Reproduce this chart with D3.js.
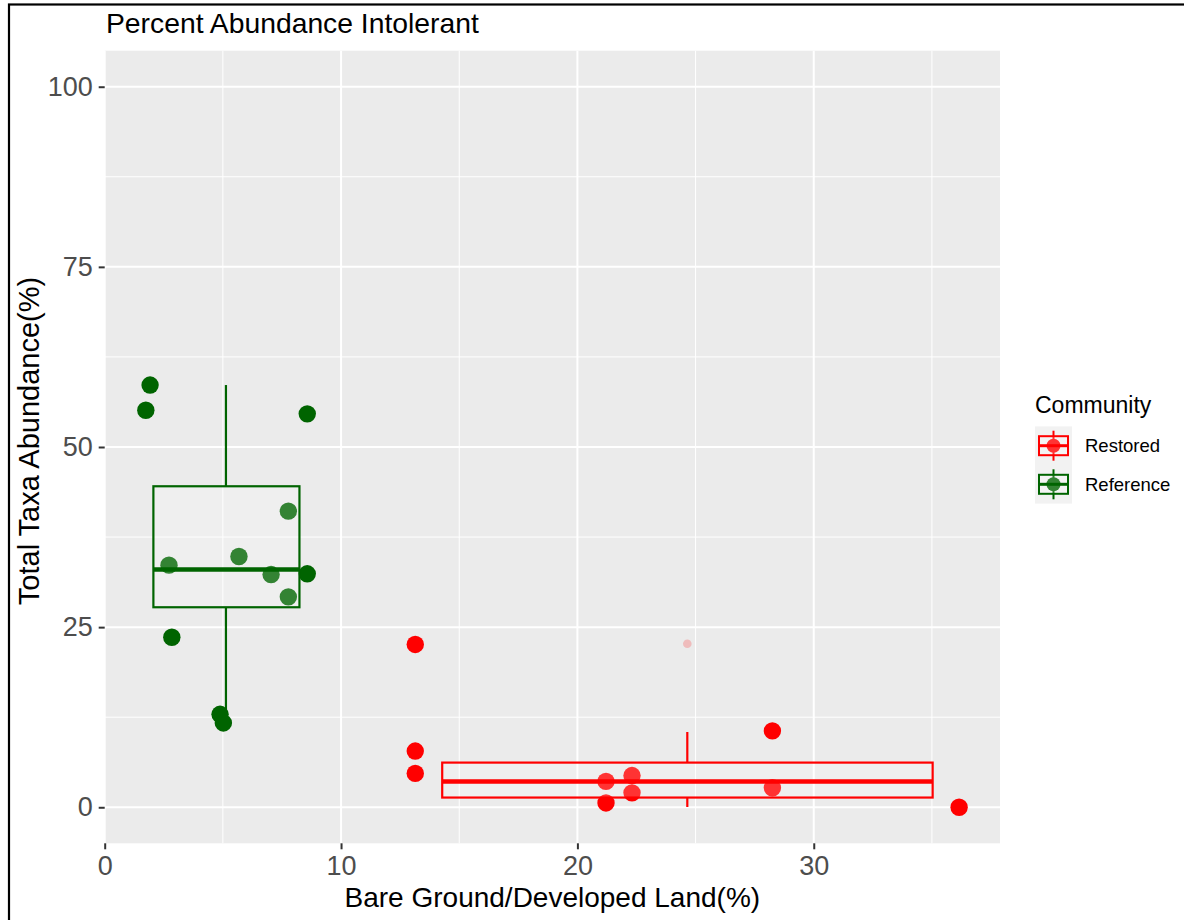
<!DOCTYPE html>
<html>
<head>
<meta charset="utf-8">
<script src="https://cdn.jsdelivr.net/npm/d3@7"></script>
<style>
  body { margin: 0; background: #fff; }
  text { font-family: "Liberation Sans", Arial, sans-serif; }
</style>
</head>
<body>
<div id="graph-container"></div>
<script>
// values
var communities = ["Restored", "Reference"];

var restoredX = [13.14, 13.14, 13.14, 21.21, 22.31, 22.31, 21.21, 28.25, 28.25, 36.15];
var restoredY = [22.6, 7.8, 4.7, 3.6, 4.4, 2.0, 0.6, 10.6, 2.7, 0.0];

var referenceX = [1.92, 1.74, 8.57, 7.77, 5.68, 2.72, 7.04, 8.57, 7.77, 2.84, 4.88, 5.02];
var referenceY = [58.6, 55.1, 54.6, 41.1, 34.8, 33.6, 32.3, 32.4, 29.2, 23.6, 12.9, 11.7];

// boxplot summaries, one entry per community (Restored, Reference)
var boxXmin = [14.28, 2.06];
var boxXmax = [35.03, 8.24];
var boxCenter = [24.65, 5.13];
var whiskerLow = [0.04, 12.8];
var boxLower = [1.35, 27.76];
var boxMiddle = [3.57, 33.0];
var boxUpper = [6.2, 44.55];
var whiskerHigh = [10.45, 58.6];
var outlierX = [24.65];
var outlierY = [22.7];

var xTicks = [0, 10, 20, 30];
var xMinor = [5, 15, 25, 35];
var yTicks = [0, 25, 50, 75, 100];
var yMinor = [12.5, 37.5, 62.5, 87.5];

var colour = d3.scaleOrdinal().domain(communities).range(["#ff0000", "#006400"]);

var svg = d3.select("#graph-container")
  .append("svg")
    .attr("width", 1184)
    .attr("height", 920);

// outer frame of the screenshot
svg.append("rect")
    .attr("x", 9).attr("y", 4.5)
    .attr("width", 1200).attr("height", 960)
    .attr("fill", "none")
    .attr("stroke", "#000")
    .attr("stroke-width", 2.2);

var panel = {left: 104.7, right: 1000, top: 50.7, bottom: 843.3};

var x = d3.scaleLinear().domain([0, 37.88]).range([panel.left, panel.right]);
var y = d3.scaleLinear().domain([-5, 105]).range([panel.bottom, panel.top]);

// panel background and grid
svg.append("rect")
    .attr("x", panel.left).attr("y", panel.top)
    .attr("width", panel.right - panel.left)
    .attr("height", panel.bottom - panel.top)
    .attr("fill", "#ebebeb");

svg.selectAll(".xminor").data(xMinor).enter().append("line")
    .attr("x1", function(d) { return x(d); }).attr("x2", function(d) { return x(d); })
    .attr("y1", panel.top).attr("y2", panel.bottom)
    .attr("stroke", "#fff").attr("stroke-width", 1);
svg.selectAll(".yminor").data(yMinor).enter().append("line")
    .attr("y1", function(d) { return y(d); }).attr("y2", function(d) { return y(d); })
    .attr("x1", panel.left).attr("x2", panel.right)
    .attr("stroke", "#fff").attr("stroke-width", 1);
svg.selectAll(".xmajor").data(xTicks).enter().append("line")
    .attr("x1", function(d) { return x(d); }).attr("x2", function(d) { return x(d); })
    .attr("y1", panel.top).attr("y2", panel.bottom)
    .attr("stroke", "#fff").attr("stroke-width", 2);
svg.selectAll(".ymajor").data(yTicks).enter().append("line")
    .attr("y1", function(d) { return y(d); }).attr("y2", function(d) { return y(d); })
    .attr("x1", panel.left).attr("x2", panel.right)
    .attr("stroke", "#fff").attr("stroke-width", 2);

// axes
var xAxis = svg.append("g")
    .attr("transform", `translate(0,${panel.bottom})`)
    .call(d3.axisBottom(x).tickValues(xTicks).tickSize(6).tickPadding(7));
var yAxis = svg.append("g")
    .attr("transform", `translate(${panel.left},0)`)
    .call(d3.axisLeft(y).tickValues(yTicks).tickSize(6).tickPadding(6));
[xAxis, yAxis].forEach(function(ax) {
  ax.select(".domain").remove();
  ax.selectAll(".tick line").attr("stroke", "#333").attr("stroke-width", 2);
  ax.selectAll(".tick text")
    .attr("fill", "#4d4d4d")
    .style("font-size", "27px")
    .style("font-family", "'Liberation Sans', Arial, sans-serif");
});

// points
var points = [];
restoredX.forEach(function(v, i) { points.push({c: "Restored", x: v, y: restoredY[i]}); });
referenceX.forEach(function(v, i) { points.push({c: "Reference", x: v, y: referenceY[i]}); });

svg.selectAll(".pt").data(points).enter().append("circle")
    .attr("cx", function(d) { return x(d.x); })
    .attr("cy", function(d) { return y(d.y); })
    .attr("r", 8.7)
    .attr("fill", function(d) { return colour(d.c); });

// boxplots drawn over the points with a faint white fill
communities.forEach(function(c, i) {
  var g = svg.append("g");
  var col = colour(c);
  g.append("line")
      .attr("x1", x(boxCenter[i])).attr("x2", x(boxCenter[i]))
      .attr("y1", y(boxUpper[i])).attr("y2", y(whiskerHigh[i]))
      .attr("stroke", col).attr("stroke-width", 2.2);
  g.append("line")
      .attr("x1", x(boxCenter[i])).attr("x2", x(boxCenter[i]))
      .attr("y1", y(boxLower[i])).attr("y2", y(whiskerLow[i]))
      .attr("stroke", col).attr("stroke-width", 2.2);
  g.append("rect")
      .attr("x", x(boxXmin[i])).attr("y", y(boxUpper[i]))
      .attr("width", x(boxXmax[i]) - x(boxXmin[i]))
      .attr("height", y(boxLower[i]) - y(boxUpper[i]))
      .attr("fill", "#fff").attr("fill-opacity", 0.2)
      .attr("stroke", col).attr("stroke-width", 2.2);
  g.append("line")
      .attr("x1", x(boxXmin[i])).attr("x2", x(boxXmax[i]))
      .attr("y1", y(boxMiddle[i])).attr("y2", y(boxMiddle[i]))
      .attr("stroke", col).attr("stroke-width", 4.4);
});

svg.selectAll(".outlier").data(outlierX).enter().append("circle")
    .attr("cx", function(d) { return x(d); })
    .attr("cy", function(d, i) { return y(outlierY[i]); })
    .attr("r", 4.3)
    .attr("fill", colour("Restored"))
    .attr("fill-opacity", 0.2);

// titles
svg.append("text")
    .attr("x", 106).attr("y", 33)
    .style("font-size", "28.3px")
    .text("Percent Abundance Intolerant");

svg.append("text")
    .attr("x", (panel.left + panel.right) / 2).attr("y", 907)
    .style("text-anchor", "middle")
    .style("font-size", "28px")
    .text("Bare Ground/Developed Land(%)");

svg.append("text")
    .attr("transform", "translate(39, 441) rotate(-90)")
    .style("text-anchor", "middle")
    .style("font-size", "29px")
    .text("Total Taxa Abundance(%)");

// legend
var legend = svg.append("g").attr("transform", "translate(1035, 0)");
legend.append("text")
    .attr("x", 0).attr("y", 413)
    .style("font-size", "23px")
    .text("Community");

communities.forEach(function(c, i) {
  var cy = 445.7 + i * 38.6;
  var col = colour(c);
  var k = legend.append("g");
  k.append("rect")
      .attr("x", 0).attr("y", cy - 19.3)
      .attr("width", 37).attr("height", 38.6)
      .attr("fill", "#f2f2f2");
  k.append("line")
      .attr("x1", 18.5).attr("x2", 18.5)
      .attr("y1", cy - 15).attr("y2", cy + 15)
      .attr("stroke", col).attr("stroke-width", 2);
  k.append("circle")
      .attr("cx", 18.5).attr("cy", cy).attr("r", 7)
      .attr("fill", col);
  k.append("rect")
      .attr("x", 4).attr("y", cy - 9.5)
      .attr("width", 29).attr("height", 19)
      .attr("fill", "#fff").attr("fill-opacity", 0.2)
      .attr("stroke", col).attr("stroke-width", 2);
  k.append("line")
      .attr("x1", 4).attr("x2", 33)
      .attr("y1", cy).attr("y2", cy)
      .attr("stroke", col).attr("stroke-width", 3);
  legend.append("text")
      .attr("x", 50).attr("y", cy + 6.5)
      .style("font-size", "18.5px")
      .text(c);
});
</script>
</body>
</html>
